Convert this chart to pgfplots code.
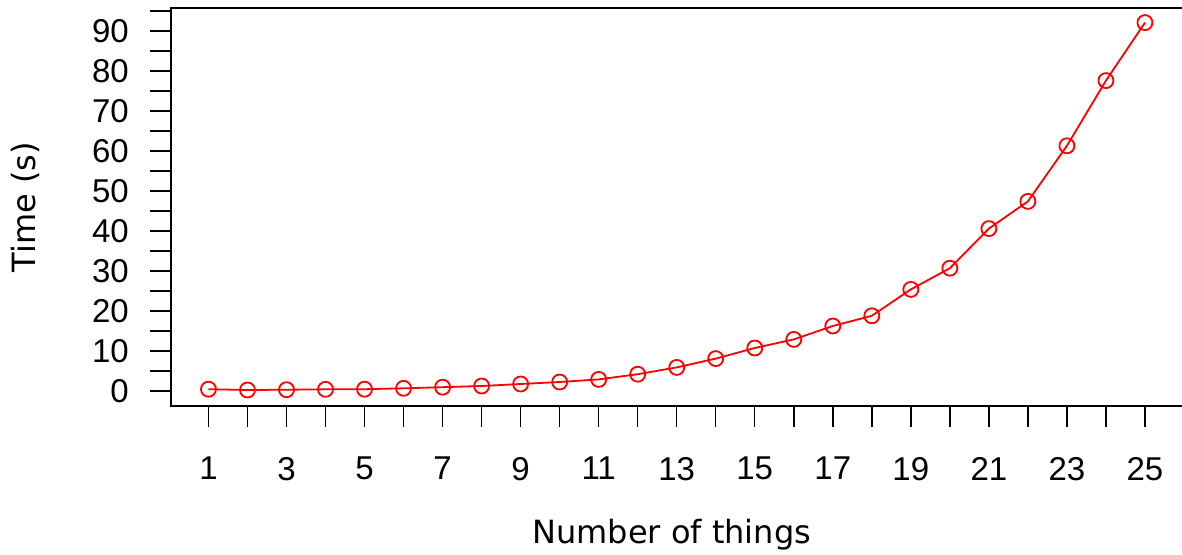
\documentclass[border=0pt]{standalone}
\usepackage{pgfplots}
\pgfplotsset{compat=1.18}
\usepackage{fontspec}
\setmainfont{DejaVu Sans}
\newfontfamily\tickfont{Liberation Sans}
\begin{document}
\begin{tikzpicture}
\begin{axis}[
  at={(171pt,148pt)}, anchor=south west,
  scale only axis, width=1011.4pt, height=398pt,
  xmin=0.04, xmax=25.96, ymin=-3.75, ymax=95.75,
  axis line style={line width=1.5pt},
  tick style={line width=1.5pt, black},
  tick align=outside, major tick length=21pt,
  xtick pos=bottom, ytick pos=left,
  xtick={1,...,25},
  xticklabels={1,,3,,5,,7,,9,,11,,13,,15,,17,,19,,21,,23,,25},
  ytick={0,5,...,95},
  yticklabels={0,,10,,20,,30,,40,,50,,60,,70,,80,,90,},
  /pgf/number format/assume math mode=true,
  ticklabel style={font=\tickfont\fontsize{33}{33}\selectfont},
  yticklabel style={inner sep=0pt, xshift=-21pt},
  xticklabel style={inner sep=0pt, yshift=-30pt},
  xlabel={Number of things},
  ylabel={Time (s)},
  every axis x label/.style={at={([xshift=-5pt,yshift=-129pt]axis description cs:0.5,0)}, anchor=center, font=\fontsize{32}{32}\selectfont},
  every axis y label/.style={at={([xshift=-146pt]axis description cs:0,0.5)}, rotate=90, anchor=center, font=\fontsize{32}{32}\selectfont},
]
\addplot[red, line width=1.8pt, mark=o, mark size=7.5pt, mark options={line width=1.8pt}] coordinates {
(1,0.45) (2,0.25) (3,0.32) (4,0.42) (5,0.45) (6,0.67) (7,0.95) (8,1.25) (9,1.75) (10,2.25)
(11,2.9) (12,4.2) (13,5.9) (14,8.1) (15,10.75) (16,12.9) (17,16.25) (18,18.8) (19,25.4) (20,30.7)
(21,40.6) (22,47.4) (23,61.3) (24,77.6) (25,92.1)
};
\end{axis}
\pgfresetboundingbox
\path (0,0) rectangle (1182pt,554pt);
\end{tikzpicture}
\end{document}
